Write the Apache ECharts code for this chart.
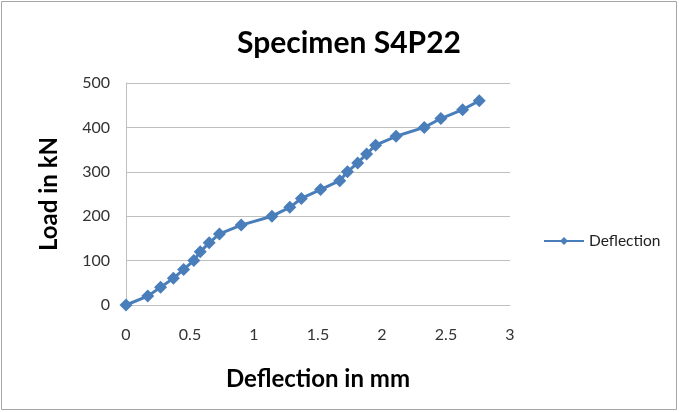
<!DOCTYPE html>
<html>
<head>
<meta charset="utf-8">
<script src="https://cdn.jsdelivr.net/npm/echarts@6/dist/echarts.min.js"></script>
<style>
  html, body { margin: 0; padding: 0; background: #fff; }
  #chart { width: 679px; height: 412px; }
</style>
</head>
<body>
<div id="chart"></div>
<script>
  // deflection (mm) vs load (kN)
  var deflection = [0, 0.17, 0.27, 0.37, 0.45, 0.53, 0.58, 0.65, 0.73, 0.9, 1.14, 1.28, 1.37, 1.52, 1.67, 1.73, 1.81, 1.88, 1.95, 2.11, 2.33, 2.46, 2.63, 2.76];
  var load = [0, 20, 40, 60, 80, 100, 120, 140, 160, 180, 200, 220, 240, 260, 280, 300, 320, 340, 360, 380, 400, 420, 440, 460];

  var points = deflection.map(function (d, i) { return [d, load[i]]; });

  var chart = echarts.init(document.getElementById('chart'));
  chart.setOption({
    animation: false,
    textStyle: { fontFamily: 'Lato' },
    title: {
      text: 'Specimen S4P22',
      left: 344,
      top: 23,
      textAlign: 'center',
      textStyle: { fontSize: 30, fontWeight: 'bold', color: '#000', fontFamily: 'Lato' }
    },
    legend: {
      left: 538,
      top: 228,
      itemWidth: 40,
      itemHeight: 10,
      itemGap: 4,
      data: ['Deflection'],
      textStyle: { fontSize: 15.5, color: '#222' }
    },
    grid: { left: 126, right: 169, top: 83, bottom: 107 },
    xAxis: {
      type: 'value',
      min: 0,
      max: 3,
      interval: 0.5,
      name: 'Deflection in mm',
      nameLocation: 'middle',
      nameGap: 62,
      nameTextStyle: { fontSize: 24, fontWeight: 'bold', color: '#000' },
      axisLine: { show: true, lineStyle: { color: '#bfbfbf' } },
      axisTick: { show: false },
      axisLabel: { margin: 22, fontSize: 16, color: '#333' },
      splitLine: { show: false }
    },
    yAxis: {
      type: 'value',
      min: 0,
      max: 500,
      interval: 100,
      name: 'Load in kN',
      nameLocation: 'middle',
      nameGap: 65,
      nameTextStyle: { fontSize: 24, fontWeight: 'bold', color: '#000' },
      axisLine: { show: true, lineStyle: { color: '#bfbfbf' } },
      axisTick: { show: false },
      axisLabel: { margin: 16, fontSize: 16, color: '#333' },
      splitLine: { lineStyle: { color: '#bfbfbf' } }
    },
    series: [{
      name: 'Deflection',
      type: 'line',
      data: points,
      symbol: 'diamond',
      symbolSize: 13,
      itemStyle: { color: '#4a7ebb' },
      lineStyle: { color: '#4a7ebb', width: 3 }
    }],
    graphic: [{
      type: 'rect',
      shape: { x: 1.5, y: 1.5, width: 675, height: 408 },
      style: { fill: null, stroke: '#a6a6a6', lineWidth: 1 }
    }]
  });

  window.addEventListener('resize', function () {
    chart.resize();
  });
</script>
</body>
</html>
